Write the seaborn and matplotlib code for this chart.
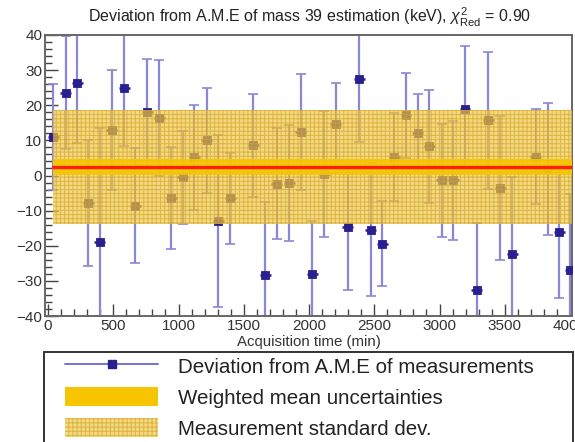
import matplotlib
matplotlib.use("Agg")
import matplotlib.pyplot as plt
import seaborn as sns
import numpy as np
import pandas as pd
from matplotlib.lines import Line2D
from matplotlib.patches import Patch
from matplotlib.legend_handler import HandlerPatch, HandlerLine2D
from matplotlib.ticker import MultipleLocator

# Acquisition time of each measurement (min)
time_min = [40, 135, 225, 309, 398, 490, 585, 667, 761, 853, 943, 1032, 1121,
            1216, 1305, 1395, 1573, 1663, 1752, 1847, 1936, 2025, 2115, 2204,
            2297, 2386, 2473, 2562, 2654, 2743, 2833, 2922, 3017, 3106, 3195,
            3285, 3374, 3464, 3558, 3739, 3829, 3918, 4000]
# Deviation from A.M.E (keV)
deviation = [11.0, 23.6, 26.2, -7.8, -18.9, 12.9, 25.0, -8.6, 18.1, 16.5, -6.5,
             -0.5, 5.2, 10.0, -13.0, -6.5, 8.6, -28.4, -2.4, -2.1, 12.4, -28.1,
             0.5, 14.8, -14.6, 27.6, -15.4, -19.5, 5.2, 17.1, 12.2, 8.3, -1.4,
             -1.4, 19.0, -32.6, 15.7, -3.5, -22.4, 5.4, 1.9, -16.0, -26.9]
# Uncertainty of each measurement (keV)
uncertainty = [15.0, 16.0, 17.0, 18.0, 32.4, 17.0, 16.7, 16.3, 15.0, 16.5, 14.5,
               13.3, 15.0, 15.0, 24.4, 13.0, 14.7, 20.8, 15.8, 16.6, 16.4, 15.2,
               18.0, 11.4, 17.9, 18.0, 18.9, 12.1, 12.6, 12.0, 11.0, 16.0, 16.2,
               17.0, 17.9, 19.0, 19.6, 20.5, 21.9, 13.6, 18.8, 18.9, 21.5]

weighted_mean = 2.4
mean_uncertainty = 2.35
std_dev = 16.2
chi2_red = 0.90

df = pd.DataFrame({"time": time_min, "dev": deviation, "err": uncertainty})

sns.set_theme(style="white")
plt.rcParams["font.family"] = ["Liberation Sans", "DejaVu Sans"]
plt.rcParams["mathtext.fontset"] = "custom"
plt.rcParams["mathtext.rm"] = "Liberation Sans"
plt.rcParams["mathtext.it"] = "Liberation Sans:italic"
plt.rcParams["hatch.linewidth"] = 0.7

fig = plt.figure(figsize=(5.75, 4.42), dpi=100)
ax = fig.add_axes([45 / 575, 1 - 316 / 442, 527 / 575, 281 / 442])

point_col = "#2a1f8f"
bar_col = "#8b87d6"
band_face = (0.93, 0.78, 0.30, 0.68)
band_hatch = (0.84, 0.63, 0.08, 0.65)
inner_col = "#f6c500"

# measurement error bars and markers
ax.errorbar(df["time"], df["dev"], yerr=df["err"], fmt="none", ecolor=bar_col,
            elinewidth=1.6, capsize=3.5, capthick=1.2, zorder=2)
ax.errorbar(df["time"], df["dev"], xerr=42, fmt="none", ecolor=point_col,
            elinewidth=1.8, zorder=3)
sns.scatterplot(data=df, x="time", y="dev", marker="s", s=30, color=point_col,
                edgecolor=point_col, linewidth=0.6, zorder=4, ax=ax, legend=False)

x0, x1 = df["time"].iloc[0], 4015
# measurement standard deviation band
ax.fill_between([x0, x1], weighted_mean - std_dev, weighted_mean + std_dev,
                facecolor=band_face, edgecolor=band_hatch, hatch="++++",
                linewidth=0, zorder=5)
# weighted mean uncertainty band
ax.fill_between([x0, x1], weighted_mean - mean_uncertainty,
                weighted_mean + mean_uncertainty, facecolor=inner_col,
                alpha=0.9, linewidth=0, zorder=6)
ax.plot([x0, x1], [weighted_mean, weighted_mean], color="#ff1e00", lw=2.4,
        zorder=7)

ax.set_xlim(-23, 4015)
ax.set_ylim(-40, 40)
ax.xaxis.set_major_locator(MultipleLocator(500))
ax.xaxis.set_minor_locator(MultipleLocator(100))
ax.yaxis.set_major_locator(MultipleLocator(10))
ax.yaxis.set_minor_locator(MultipleLocator(2))
ax.tick_params(which="both", direction="in", top=False, right=False,
               bottom=True, left=True, colors="#444444", labelcolor="#333333",
               labelsize=11, width=1.0, pad=2)
ax.tick_params(which="major", length=9)
ax.tick_params(which="minor", length=5)
for s in ax.spines.values():
    s.set_color("#666666")
    s.set_linewidth(1.4)

ax.set_xlabel("Acquisition time (min)", fontsize=10.8, color="#333333")
ax.xaxis.set_label_coords(0.5, -0.066)
ax.set_ylabel("")

fig.text(310 / 575, 1 - 17 / 442,
         r"Deviation from A.M.E of mass 39 estimation (keV), $\chi^2_{\mathrm{Red}}$ = %.2f" % chi2_red,
         ha="center", va="center", fontsize=11.5, color="#222222")

handles = [
    Line2D([0], [0], color="#6c66c8", lw=1.3, marker="s", markersize=6,
           markerfacecolor=point_col, markeredgecolor=point_col),
    Patch(facecolor=inner_col, edgecolor="none"),
    Patch(facecolor=band_face, edgecolor=band_hatch, hatch="++++", linewidth=0),
]
labels = ["Deviation from A.M.E of measurements",
          "Weighted mean uncertainties",
          "Measurement standard dev."]
pad = 0.83
leg = fig.legend(handles, labels, loc="upper left",
                 bbox_to_anchor=(44 / 575, 0, 529 / 575, 1 - 352 / 442),
                 mode="expand", borderaxespad=0, fancybox=False, framealpha=1,
                 edgecolor="#333333", fontsize=14.8, handlelength=5.35,
                 handleheight=1.07, labelspacing=0.5, handletextpad=0.97,
                 borderpad=0.2,
                 handler_map={Line2D: HandlerLine2D(xpad=pad),
                              Patch: HandlerPatch(xpad=pad)})
leg.get_frame().set_linewidth(1.4)
for t in leg.get_texts():
    t.set_color("#222222")

fig.savefig("out.png", dpi=100)
